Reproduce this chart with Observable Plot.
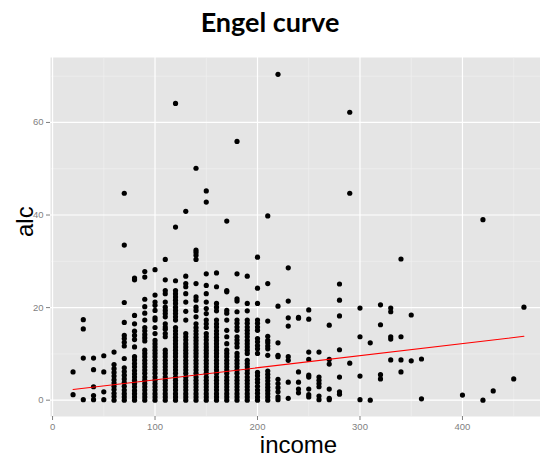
<!DOCTYPE html>
<html>
<head>
<meta charset="utf-8">
<script src="https://cdn.jsdelivr.net/npm/d3@7"></script>
<script src="https://cdn.jsdelivr.net/npm/@observablehq/plot@0.6"></script>
<style>
  html, body { margin: 0; padding: 0; background: #ffffff; overflow: hidden; width: 540px; height: 458px; }
  #title {
    box-sizing: border-box; height: 50px; width: 540px; padding-top: 8px;
    text-align: center; font-family: Lato, "Open Sans", sans-serif; font-weight: 700;
    font-size: 27px; line-height: 27px; color: #000;
  }
  #chart { width: 548px; height: 408px; }
  #chart svg { display: block; max-width: none !important; width: 548px !important; height: 408px !important; }
</style>
</head>
<body>
<div id="title">Engel curve</div>
<div id="chart"></div>
<script>
// Household income levels (one column of points per level)
const incomeLevels = [20, 30, 40, 50, 60, 70, 80, 90, 100, 110, 120, 130, 140, 150, 160, 170, 180, 190, 200,
  210, 220, 230, 240, 250, 260, 270, 280, 290, 300, 310, 320, 330, 340, 350, 360, 400, 420, 430, 450, 460];

// Alcohol expenditure observed at each income level
const alcByIncome = [
  [6.1, 1.2],
  [17.4, 15.4, 9.1, 0.1],
  [9.1, 6.6, 2.9, 1.0, 0.1],
  [9.6, 6.1, 1.8, 0.1],
  [10.4, 7.7, 6.8, 6.0, 5.2, 4.4, 3.7, 3.0, 2.3, 1.5, 0.8, 0],
  [44.7, 33.5, 21.1, 16.8, 14.0, 13.3, 12.5, 11.7, 9.0, 7.0, 6.2, 5.4, 4.6, 3.8, 3.0, 2.2, 1.4, 0.7, 0],
  [26.4, 26.0, 18.3, 16.5, 14.9, 14.0, 13.1, 11.5, 9.4, 8.7, 7.9, 7.2, 6.4, 5.7, 5.0, 4.3, 3.6, 2.9, 2.1, 1.4, 0.7, 0],
  [27.8, 26.6, 21.8, 20.2, 18.8, 17.3, 15.7, 15.0, 14.2, 13.5, 12.8, 10.8, 10.1, 9.4, 8.6, 7.9, 7.2, 6.5, 5.8, 5.0, 4.3, 3.6, 2.9, 2.2, 1.4, 0.7, 0],
  [28.2, 22.7, 21.2, 20.5, 19.4, 17.8, 17.3, 15.7, 14.4, 12.9, 12.2, 11.5, 10.8, 10.1, 9.4, 8.6, 7.9, 7.2, 6.5, 5.8, 5.0, 4.3, 3.6, 2.9, 2.2, 1.4, 0.7, 0],
  [30.4, 26.0, 23.7, 23.0, 21.2, 20.1, 19.4, 18.7, 18.0, 16.5, 15.8, 15.3, 14.4, 13.7, 10.8, 10.1, 9.4, 8.6, 7.9, 7.2, 6.5, 5.8, 5.0, 4.3, 3.6, 2.9, 2.2, 1.4, 0.7, 0],
  [64.1, 37.4, 25.8, 23.7, 23.0, 22.3, 21.6, 20.9, 20.1, 19.4, 18.7, 18.0, 17.3, 15.7, 15.0, 14.3, 13.6, 12.9, 12.2, 11.5, 10.8, 10.1, 9.4, 8.6, 7.9, 7.2, 6.5, 5.8, 5.0, 4.3, 3.6, 2.9, 2.2, 1.4, 0.7, 0],
  [40.8, 26.8, 25.2, 24.5, 23.0, 21.2, 19.2, 17.3, 14.4, 13.7, 13.0, 12.2, 11.5, 10.8, 10.1, 9.4, 8.6, 7.9, 7.2, 6.5, 5.8, 5.0, 4.3, 3.6, 2.9, 2.2, 1.4, 0.7, 0],
  [50.1, 32.4, 31.9, 31.3, 30.4, 25.2, 22.3, 21.6, 20.1, 19.4, 18.0, 16.5, 15.7, 15.0, 14.3, 13.6, 12.9, 12.2, 11.5, 10.8, 10.1, 9.4, 8.6, 7.9, 7.2, 6.5, 5.8, 5.0, 4.3, 3.6, 2.9, 2.2, 1.4, 0.7, 0],
  [45.2, 42.8, 27.3, 24.8, 23.0, 21.2, 19.8, 18.7, 17.3, 16.5, 15.7, 14.4, 13.7, 13.0, 12.2, 11.5, 10.8, 10.1, 9.4, 8.6, 7.9, 7.2, 6.5, 5.8, 5.0, 4.3, 3.6, 2.9, 2.2, 1.4, 0.7, 0],
  [27.5, 24.5, 20.9, 20.1, 19.3, 17.3, 16.5, 15.8, 15.0, 14.3, 13.6, 12.9, 12.2, 11.5, 10.8, 10.1, 9.4, 8.6, 7.9, 7.2, 6.5, 5.8, 5.0, 4.3, 3.6, 2.9, 2.2, 1.4, 0.7, 0],
  [38.7, 23.7, 23.4, 19.4, 18.8, 17.3, 15.1, 13.7, 12.2, 10.8, 10.1, 9.4, 8.6, 7.9, 7.2, 6.5, 5.8, 5.0, 4.3, 3.6, 2.9, 2.2, 1.4, 0.7, 0],
  [55.9, 27.3, 21.9, 21.4, 19.1, 17.3, 16.6, 15.8, 15.1, 13.7, 13.0, 12.3, 11.5, 10.1, 9.4, 8.6, 7.9, 7.2, 6.5, 5.8, 5.0, 4.3, 3.6, 2.9, 2.2, 1.4, 0.7, 0],
  [26.8, 20.9, 19.3, 17.3, 16.6, 15.8, 15.1, 14.4, 13.7, 12.9, 12.2, 11.5, 10.8, 10.1, 8.6, 7.9, 7.2, 6.5, 5.8, 5.0, 4.3, 3.6, 2.9, 2.2, 1.4, 0.7, 0],
  [30.9, 24.2, 20.9, 17.3, 16.6, 15.8, 15.1, 13.3, 12.6, 11.8, 11.1, 10.1, 6.0, 5.3, 4.5, 3.8, 3.0, 2.2, 1.5, 0.7, 0],
  [39.8, 25.2, 17.1, 13.8, 12.9, 12.4, 11.7, 11.1, 9.7, 6.3, 5.6, 4.9, 4.2, 3.5, 2.8, 2.1, 1.4, 0.7, 0],
  [70.4, 20.3, 12.4, 9.7, 9.4, 4.5, 3.6, 2.7, 1.8, 0.7, 0.1],
  [28.6, 21.4, 17.8, 16.0, 9.4, 8.6, 3.9, 0.4],
  [17.9, 17.7, 6.1, 3.9, 2.4, 1.6],
  [19.5, 17.5, 10.4, 8.8, 5.4, 5.0, 2.4, 1.2, 0.7],
  [10.4, 5.0, 4.3, 3.6, 2.9, 0.9, 0.1],
  [16.2, 8.8, 7.8, 2.4, 0.4, 0.1],
  [25.1, 21.6, 18.2, 10.9, 5.0, 1.8, 1.3],
  [62.2, 44.7, 8.0],
  [19.9, 13.7, 5.2, 0.1],
  [12.4, 0],
  [20.6, 16.3, 5.5, 4.6],
  [19.9, 19.1, 13.7, 13.2, 8.7],
  [30.5, 13.7, 8.7, 6.1],
  [18.4, 8.5],
  [8.9, 0.3],
  [1.1],
  [39.0, 0],
  [2.0],
  [4.6],
  [20.1]
];

// Least-squares fit of alc on income, evaluated at the ends of the income range
const fitIncome = [20, 460];
const fitAlc = [2.3, 13.8];

// Axis ticks and grid positions
const xTicks = [0, 100, 200, 300, 400];
const yTicks = [0, 20, 40, 60];
const xMinor = [50, 150, 250, 350, 450];
const yMinor = [10, 30, 50, 70];

const points = incomeLevels.flatMap((inc, i) => alcByIncome[i].map(a => ({income: inc, alc: a})));
const fit = fitIncome.map((inc, i) => ({income: inc, alc: fitAlc[i]}));

const tickColor = "#7f7f7f";

const chart = Plot.plot({
  width: 548,
  height: 408,
  marginTop: 7,
  marginBottom: 42,
  marginLeft: 50,
  marginRight: 2,
  style: {fontFamily: "'Liberation Sans', Arial, sans-serif", background: "transparent", overflow: "visible"},
  x: {domain: [-2, 482]},
  y: {domain: [-3.525, 74.03]},
  marks: [
    Plot.frame({fill: "#e5e5e5", stroke: "none"}),
    Plot.gridX(xMinor, {stroke: "#f2f2f2", strokeOpacity: 1, strokeWidth: 0.6}),
    Plot.gridY(yMinor, {stroke: "#f2f2f2", strokeOpacity: 1, strokeWidth: 0.6}),
    Plot.gridX(xTicks, {stroke: "#ffffff", strokeOpacity: 1, strokeWidth: 1.2}),
    Plot.gridY(yTicks, {stroke: "#ffffff", strokeOpacity: 1, strokeWidth: 1.2}),
    Plot.axisX(xTicks, {color: tickColor, tickSize: 4, tickPadding: 3, fontSize: 9.5, label: null}),
    Plot.axisY(yTicks, {color: tickColor, tickSize: 4, tickPadding: 3, fontSize: 9.5, label: null}),
    Plot.dot(points, {x: "income", y: "alc", r: 2.6, fill: "#000000", stroke: "none"}),
    Plot.line(fit, {x: "income", y: "alc", stroke: "#ff0000", strokeWidth: 1.1}),
    Plot.text(["income"], {frameAnchor: "bottom", lineAnchor: "bottom", dy: 36.7, fontSize: 24, fill: "#000000"}),
    Plot.text(["alc"], {frameAnchor: "left", lineAnchor: "bottom", rotate: -90, dx: -18, fontSize: 24, fill: "#000000"})
  ]
});

document.getElementById("chart").append(chart);
</script>
</body>
</html>
